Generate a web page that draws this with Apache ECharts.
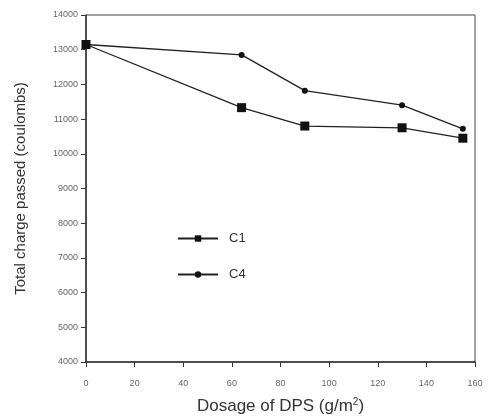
<!DOCTYPE html>
<html>
<head>
<meta charset="utf-8">
<script src="https://cdn.jsdelivr.net/npm/echarts@6/dist/echarts.min.js"></script>
<style>
  html, body { margin: 0; padding: 0; background: #fff; }
  #chart { width: 488px; height: 416px; }
</style>
</head>
<body>
<div id="chart"></div>
<script>
const dosage = [0, 64, 90, 130, 155];
const c1 = [13150, 11330, 10800, 10750, 10450];
const c4 = [13150, 12850, 11820, 11400, 10720];
const xTicks = [0, 20, 40, 60, 80, 100, 120, 140, 160];
const yTicks = [4000, 5000, 6000, 7000, 8000, 9000, 10000, 11000, 12000, 13000, 14000];

const chart = echarts.init(document.getElementById('chart'));

const pairs = (xs, ys) => xs.map((x, i) => [x, ys[i]]);

chart.setOption({
  animation: false,
  textStyle: { fontFamily: 'Liberation Sans, Arial, sans-serif' },
  grid: {
    left: 86, top: 15, right: 13, bottom: 54,
    outerBoundsMode: 'none',
    containLabel: false,
    show: true, borderColor: '#444', borderWidth: 1
  },
  legend: {
    orient: 'vertical',
    left: 172,
    top: 227,
    itemWidth: 40,
    itemHeight: 8,
    itemGap: 23,
    textStyle: { fontSize: 13, color: '#333', padding: [0, 0, 0, 6] },
    data: ['C1', 'C4']
  },
  xAxis: {
    type: 'value',
    min: xTicks[0],
    max: xTicks[xTicks.length - 1],
    interval: 20,
    name: 'Dosage of DPS (g/m{sup|2})',
    nameLocation: 'middle',
    nameGap: 35,
    nameTextStyle: {
      fontSize: 17, color: '#333',
      rich: { sup: { fontSize: 10, verticalAlign: 'top', color: '#333', padding: [0, 0, 8, 0] } }
    },
    axisLine: { lineStyle: { color: '#333', width: 1.5 } },
    axisTick: { show: true, length: 5, lineStyle: { color: '#333' } },
    axisLabel: { fontSize: 9, color: '#666', margin: 17, formatter: v => String(v) },
    splitLine: { show: false }
  },
  yAxis: {
    type: 'value',
    min: yTicks[0],
    max: yTicks[yTicks.length - 1],
    interval: 1000,
    name: 'Total charge passed (coulombs)',
    nameLocation: 'middle',
    nameGap: 58,
    nameTextStyle: { fontSize: 15, color: '#333' },
    axisLine: { show: true, lineStyle: { color: '#333', width: 1.5 } },
    axisTick: { show: true, length: 5, lineStyle: { color: '#333' } },
    axisLabel: { fontSize: 9, color: '#666', margin: 8, formatter: v => String(v) },
    splitLine: { show: false }
  },
  series: [
    {
      name: 'C1',
      type: 'line',
      data: pairs(dosage, c1),
      symbol: 'rect',
      symbolSize: 9,
      itemStyle: { color: '#111' },
      lineStyle: { color: '#222', width: 1.3 }
    },
    {
      name: 'C4',
      type: 'line',
      data: pairs(dosage, c4),
      symbol: 'circle',
      symbolSize: 6,
      itemStyle: { color: '#111' },
      lineStyle: { color: '#222', width: 1.3 }
    }
  ]
});
</script>
</body>
</html>
